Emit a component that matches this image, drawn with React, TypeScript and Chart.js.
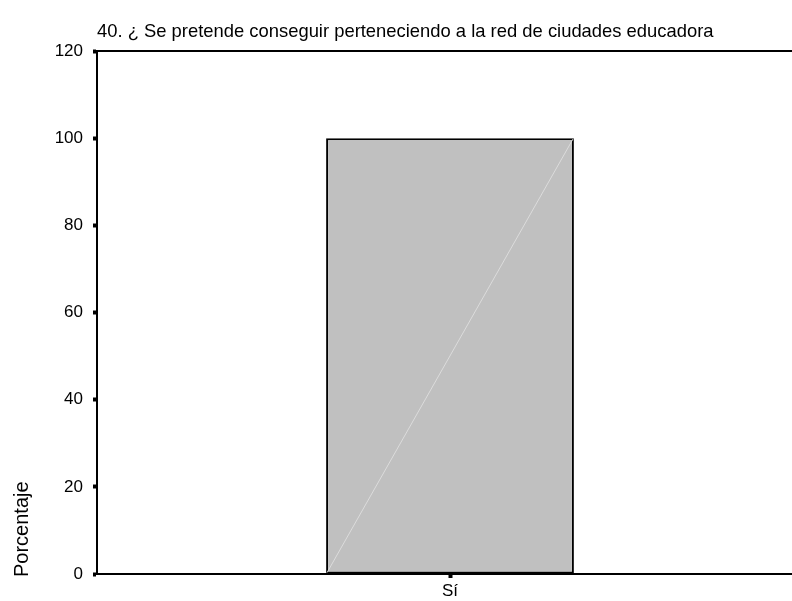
import React, { useEffect, useRef } from "react";
import { Chart, registerables } from "chart.js";

Chart.register(...registerables);

const chartTitle = "40. ¿ Se pretende conseguir perteneciendo a la red de ciudades educadora";
const yAxisTitle = "Porcentaje";
const categories = ["Sí"];
const percentages = [100];
const yTickMin = 0;
const yTickMax = 120;
const yTickStep = 20;

const FONT = "'Liberation Sans', Arial, sans-serif";

const framePlugin = {
  id: "framePlugin",
  afterDatasetsDraw(chart: any) {
    const { ctx, chartArea } = chart;
    ctx.save();
    // faint diagonal inside each bar
    const meta = chart.getDatasetMeta(0);
    meta.data.forEach((bar: any) => {
      const p = bar.getProps(["x", "y", "base", "width"], true);
      const l = p.x - p.width / 2;
      const r = p.x + p.width / 2;
      ctx.strokeStyle = "#dcdcdc";
      ctx.lineWidth = 1;
      ctx.beginPath();
      ctx.moveTo(l + 1, p.base - 1);
      ctx.lineTo(r - 1, p.y + 1);
      ctx.stroke();
    });
    // top frame line
    ctx.strokeStyle = "#000";
    ctx.lineWidth = 2;
    ctx.beginPath();
    ctx.moveTo(chartArea.left, chartArea.top);
    ctx.lineTo(chartArea.right + 20, chartArea.top);
    ctx.stroke();
    // title
    ctx.fillStyle = "#000";
    ctx.font = `18.4px ${FONT}`;
    ctx.textAlign = "left";
    ctx.textBaseline = "alphabetic";
    ctx.fillText(chartTitle, chartArea.left, 37);
    // y axis title, rotated, aligned to the bottom
    ctx.translate(22, chartArea.bottom + 3);
    ctx.rotate(-Math.PI / 2);
    ctx.font = `20px ${FONT}`;
    ctx.textAlign = "left";
    ctx.textBaseline = "middle";
    ctx.fillText(yAxisTitle, 0, 0);
    ctx.restore();
  },
};

export default function App() {
  const ref = useRef<HTMLCanvasElement | null>(null);
  useEffect(() => {
    document.body.style.overflow = "hidden";
    const chart = new Chart(ref.current as HTMLCanvasElement, {
      type: "bar",
      data: {
        labels: categories,
        datasets: [
          {
            data: percentages,
            backgroundColor: "#c0c0c0",
            borderColor: "#000",
            borderWidth: 2,
            borderSkipped: false,
            barPercentage: 0.351,
            categoryPercentage: 1,
          },
        ],
      },
      options: {
        responsive: false,
        animation: false,
        layout: { padding: { top: 51, right: 0, left: 0, bottom: 0 } },
        plugins: { legend: { display: false }, tooltip: { enabled: false }, title: { display: false } },
        scales: {
          x: {
            offset: true,
            grid: {
              offset: false,
              drawOnChartArea: false,
              drawTicks: true,
              tickLength: 4,
              tickWidth: 4,
              tickColor: "#000",
            },
            border: { display: true, color: "#000", width: 2 },
            ticks: { color: "#000", font: { family: FONT, size: 17 }, padding: 3 },
            afterFit: (s: any) => {
              s.height = 27;
            },
          },
          y: {
            min: yTickMin,
            max: yTickMax,
            ticks: { stepSize: yTickStep, color: "#000", font: { family: FONT, size: 17 }, padding: 10 },
            grid: {
              drawOnChartArea: false,
              drawTicks: true,
              tickLength: 4,
              tickWidth: 4,
              tickColor: "#000",
            },
            border: { display: true, color: "#000", width: 2 },
            title: { display: false, text: yAxisTitle },
            afterFit: (s: any) => {
              s.width = 97;
            },
          },
        },
      },
      plugins: [framePlugin],
    });
    return () => chart.destroy();
  }, []);
  return (
    <div style={{ position: "absolute", left: 0, top: 0, width: 792, height: 601, overflow: "hidden", background: "#fff" }}>
      <canvas ref={ref} width={803} height={601} style={{ display: "block" }} />
    </div>
  );
}
